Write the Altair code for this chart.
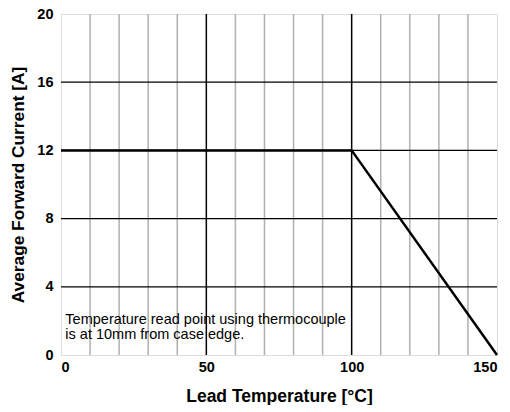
import altair as alt
import pandas as pd

# Data
curve_temp = [0, 100, 150]
curve_current = [12, 12, 0]
minor_x = [10, 20, 30, 40, 60, 70, 80, 90, 110, 120, 130, 140]
major_x = [50, 100]
grid_y = [4, 8, 12, 16]
x_ticks = [0, 50, 100, 150]
y_ticks = [0, 4, 8, 12, 16, 20]
note_lines = ["Temperature read point using thermocouple", "is at 10mm from case edge."]
note_x = [1.5, 1.5]
note_y = [1.8, 0.93]

FONT = "Liberation Sans"

xs = alt.Scale(domain=[0, 150], nice=False, zero=False)
ys = alt.Scale(domain=[0, 20], nice=False)

x_axis = alt.Axis(values=x_ticks, grid=False, ticks=False, domain=False,
                  labelFont=FONT, labelFontWeight="bold", labelFontSize=14.5,
                  labelColor="black", labelPadding=5,
                  title="Lead Temperature [°C]", titleFont=FONT, titleFontSize=17.5,
                  titleFontWeight="bold", titleColor="black", titlePadding=14)
y_axis = alt.Axis(values=y_ticks, grid=False, ticks=False, domain=False,
                  labelFont=FONT, labelFontWeight="bold", labelFontSize=14.5,
                  labelColor="black", labelPadding=8,
                  title="Average Forward Current [A]", titleFont=FONT, titleFontSize=17.3,
                  titleFontWeight="bold", titleColor="black", titlePadding=9)

minor = alt.Chart(pd.DataFrame({"x": minor_x})).mark_rule(color="#b0b0b0", strokeWidth=1.5).encode(
    x=alt.X("x:Q", scale=xs, axis=x_axis))
major = alt.Chart(pd.DataFrame({"x": major_x})).mark_rule(color="black", strokeWidth=1.5).encode(
    x=alt.X("x:Q", scale=xs))
hgrid = alt.Chart(pd.DataFrame({"y": grid_y})).mark_rule(color="black", strokeWidth=1.3).encode(
    y=alt.Y("y:Q", scale=ys, axis=y_axis))
curve = alt.Chart(pd.DataFrame({"t": curve_temp, "i": curve_current})).mark_line(
    color="black", strokeWidth=2.5).encode(
    x=alt.X("t:Q", scale=xs), y=alt.Y("i:Q", scale=ys))
note = alt.Chart(pd.DataFrame({"x": note_x, "y": note_y, "s": note_lines})).mark_text(
    align="left", baseline="alphabetic", font=FONT, fontSize=14.5, color="black").encode(
    x=alt.X("x:Q", scale=xs), y=alt.Y("y:Q", scale=ys), text="s:N")

chart = alt.layer(minor, major, hgrid, curve, note).properties(
    width=436, height=341,
    autosize=alt.AutoSizeParams(type="none"),
    padding={"left": 53, "top": 6, "right": 5, "bottom": 50},
).configure_view(stroke="black", strokeWidth=2).configure(background="white")

chart.save("out.html", embed_options={"renderer": "svg", "actions": False})
